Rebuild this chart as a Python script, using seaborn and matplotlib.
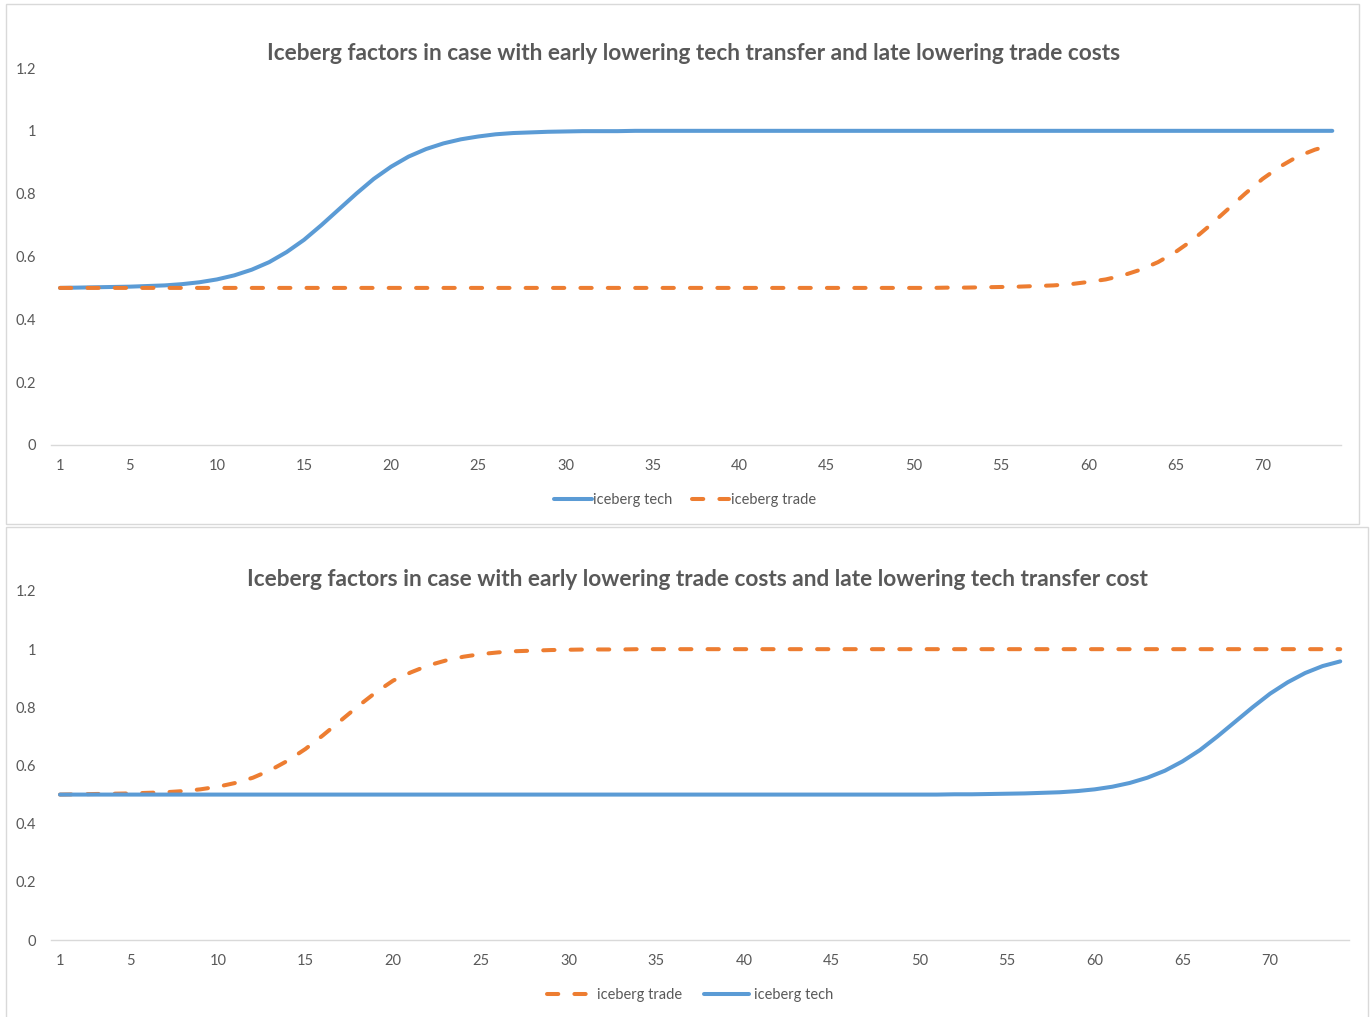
import matplotlib
matplotlib.use("Agg")
import matplotlib.pyplot as plt
import seaborn as sns
import pandas as pd
from matplotlib.patches import Rectangle

# ---- data -------------------------------------------------------------
periods = list(range(1, 75))

# Chart 1: early lowering tech transfer, late lowering trade costs
tech_early = [
    0.500, 0.501, 0.502, 0.503, 0.504, 0.506, 0.508, 0.512, 0.518, 0.527,
    0.540, 0.558, 0.582, 0.614, 0.653, 0.700, 0.750, 0.800, 0.847, 0.886,
    0.918, 0.942, 0.960, 0.973, 0.982, 0.989, 0.993, 0.995, 0.997, 0.998,
    0.999, 0.999, 0.999, 1.000, 1.000, 1.000, 1.000, 1.000, 1.000, 1.000,
    1.000, 1.000, 1.000, 1.000, 1.000, 1.000, 1.000, 1.000, 1.000, 1.000,
    1.000, 1.000, 1.000, 1.000, 1.000, 1.000, 1.000, 1.000, 1.000, 1.000,
    1.000, 1.000, 1.000, 1.000, 1.000, 1.000, 1.000, 1.000, 1.000, 1.000,
    1.000, 1.000, 1.000, 1.000,
]
trade_late = [
    0.500, 0.500, 0.500, 0.500, 0.500, 0.500, 0.500, 0.500, 0.500, 0.500,
    0.500, 0.500, 0.500, 0.500, 0.500, 0.500, 0.500, 0.500, 0.500, 0.500,
    0.500, 0.500, 0.500, 0.500, 0.500, 0.500, 0.500, 0.500, 0.500, 0.500,
    0.500, 0.500, 0.500, 0.500, 0.500, 0.500, 0.500, 0.500, 0.500, 0.500,
    0.500, 0.500, 0.500, 0.500, 0.500, 0.500, 0.500, 0.500, 0.500, 0.500,
    0.500, 0.501, 0.501, 0.502, 0.503, 0.504, 0.506, 0.508, 0.512, 0.519,
    0.527, 0.540, 0.558, 0.582, 0.614, 0.653, 0.700, 0.750, 0.800, 0.847,
    0.886, 0.918, 0.940, 0.956,
]

# Chart 2: early lowering trade costs, late lowering tech transfer cost
trade_early = [
    0.500, 0.501, 0.502, 0.503, 0.504, 0.506, 0.508, 0.512, 0.518, 0.527,
    0.540, 0.558, 0.584, 0.617, 0.657, 0.704, 0.754, 0.804, 0.851, 0.892,
    0.920, 0.944, 0.961, 0.974, 0.983, 0.989, 0.993, 0.995, 0.997, 0.998,
    0.999, 0.999, 0.999, 1.000, 1.000, 1.000, 1.000, 1.000, 1.000, 1.000,
    1.000, 1.000, 1.000, 1.000, 1.000, 1.000, 1.000, 1.000, 1.000, 1.000,
    1.000, 1.000, 1.000, 1.000, 1.000, 1.000, 1.000, 1.000, 1.000, 1.000,
    1.000, 1.000, 1.000, 1.000, 1.000, 1.000, 1.000, 1.000, 1.000, 1.000,
    1.000, 1.000, 1.000, 1.000,
]
tech_late = [
    0.500, 0.500, 0.500, 0.500, 0.500, 0.500, 0.500, 0.500, 0.500, 0.500,
    0.500, 0.500, 0.500, 0.500, 0.500, 0.500, 0.500, 0.500, 0.500, 0.500,
    0.500, 0.500, 0.500, 0.500, 0.500, 0.500, 0.500, 0.500, 0.500, 0.500,
    0.500, 0.500, 0.500, 0.500, 0.500, 0.500, 0.500, 0.500, 0.500, 0.500,
    0.500, 0.500, 0.500, 0.500, 0.500, 0.500, 0.500, 0.500, 0.500, 0.500,
    0.500, 0.501, 0.501, 0.502, 0.503, 0.504, 0.506, 0.508, 0.512, 0.518,
    0.527, 0.540, 0.558, 0.582, 0.614, 0.653, 0.700, 0.750, 0.800, 0.847,
    0.886, 0.918, 0.942, 0.958,
]

x_ticks = [1, 5, 10, 15, 20, 25, 30, 35, 40, 45, 50, 55, 60, 65, 70]
y_ticks = [0, 0.2, 0.4, 0.6, 0.8, 1.0, 1.2]
y_labels = ["0", "0.2", "0.4", "0.6", "0.8", "1", "1.2"]

title_top = "Iceberg factors in case with early lowering tech transfer and late lowering trade costs"
title_bottom = "Iceberg factors in case with early lowering trade costs and late lowering tech transfer cost"

# ---- style ------------------------------------------------------------
sns.set_theme(style="white")
plt.rcParams["font.family"] = ["Lato", "DejaVu Sans"]

BLUE = "#5B9BD5"
ORANGE = "#ED7D31"
TEXT = "#595959"
GRID = "#D9D9D9"
LW = 2.9
DASH = (0, (2.8, 4.0))
FS = 10.5

W, H = 1372, 1017
fig = plt.figure(figsize=(W / 100, H / 100), dpi=100)
fig.patch.set_facecolor("white")


def fx(px):
    return px / W


def fy(py):
    return 1 - py / H


# chart frames
for (x0, y0, x1, y1) in [(6, 4, 1359, 524), (6, 527, 1368, 1030)]:
    fig.add_artist(Rectangle((fx(x0), fy(y1)), fx(x1 - x0), (y1 - y0) / H,
                             transform=fig.transFigure, fill=False,
                             edgecolor=GRID, linewidth=1.0))


def draw_panel(ax, series, title, title_xy, legend_xy, leg_kw):
    for name, values, color, ls in series:
        df = pd.DataFrame({"period": periods, "value": values})
        sns.lineplot(data=df, x="period", y="value", ax=ax, color=color,
                     linewidth=LW, linestyle=ls, label=name,
                     solid_capstyle="round", dash_capstyle="round")
    ax.set_xlim(0.5, 74.5)
    ax.set_ylim(0, 1.2)
    ax.set_xticks(x_ticks)
    ax.set_xticklabels([str(t) for t in x_ticks])
    ax.set_yticks(y_ticks)
    ax.set_yticklabels(y_labels)
    ax.set_xlabel("")
    ax.set_ylabel("")
    ax.tick_params(axis="both", length=0, labelsize=FS, colors=TEXT)
    ax.tick_params(axis="x", pad=10)
    ax.tick_params(axis="y", pad=11)
    ax.grid(False)
    for side in ["top", "right", "left"]:
        ax.spines[side].set_visible(False)
    ax.spines["bottom"].set_color(GRID)
    ax.spines["bottom"].set_linewidth(1.0)
    ax.set_facecolor("none")
    ax.get_legend().remove()
    handles, labels = ax.get_legend_handles_labels()
    fig.legend(handles, labels, loc="center",
               bbox_to_anchor=(fx(legend_xy[0]), fy(legend_xy[1])),
               ncol=2, frameon=False, fontsize=FS, labelcolor=TEXT,
               **leg_kw)
    fig.text(fx(title_xy[0]), fy(title_xy[1]), title, ha="center",
             va="center", fontsize=16.3, fontweight="bold", color=TEXT)


ax1 = fig.add_axes([fx(51.3), fy(445), fx(1341 - 51.3), (445 - 68) / H])
draw_panel(ax1,
           [("iceberg tech", tech_early, BLUE, "-"),
            ("iceberg trade", trade_late, ORANGE, DASH)],
           title_top, (694, 53), (685, 500),
           dict(handlelength=2.6, handletextpad=0.1, columnspacing=1.3))

ax2 = fig.add_axes([fx(51.2), fy(940), fx(1349 - 51.2), (940 - 591) / H])
draw_panel(ax2,
           [("iceberg trade", trade_early, ORANGE, DASH),
            ("iceberg tech", tech_late, BLUE, "-")],
           title_bottom, (697, 580), (690, 995),
           dict(handlelength=3.1, handletextpad=0.35, columnspacing=1.5))

fig.savefig("out.png", dpi=100, facecolor="white")
